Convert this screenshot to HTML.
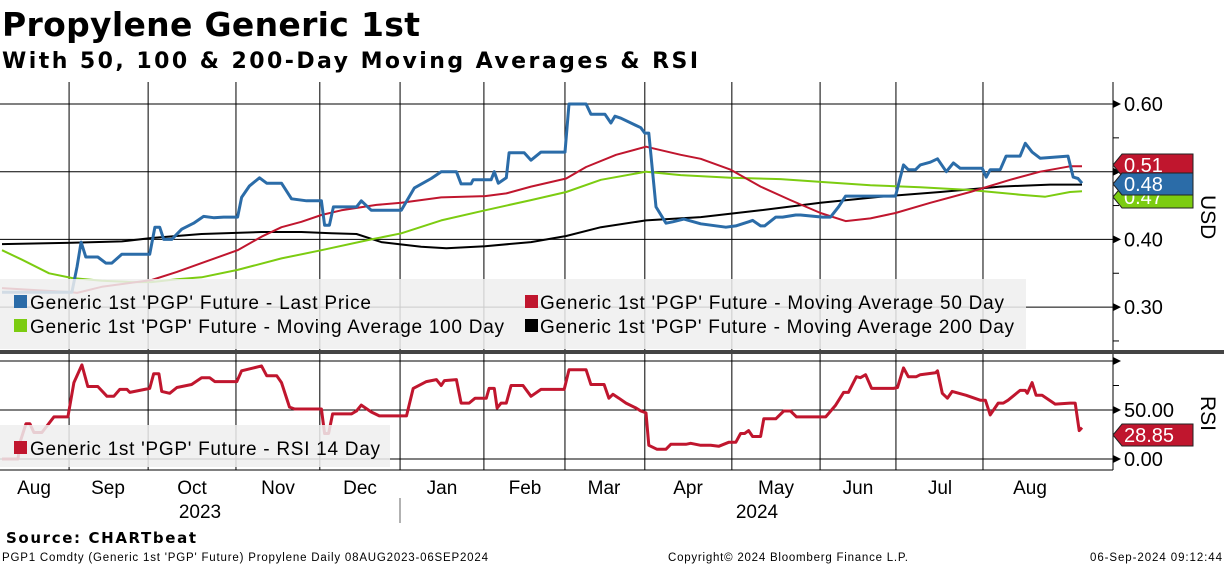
<!DOCTYPE html>
<html><head><meta charset="utf-8"><style>
body{margin:0;background:#fff;}
svg{display:block;font-family:"DejaVu Sans","Liberation Sans",sans-serif;}
</style></head><body>
<svg id="chart" width="1224" height="566" viewBox="0 0 1224 566" xmlns="http://www.w3.org/2000/svg">
<text x="2" y="36" font-size="33" font-weight="bold" fill="#000" textLength="418">Propylene Generic 1st</text>
<text x="2" y="68" font-size="22" font-weight="bold" fill="#000" textLength="696">With 50, 100 &amp; 200-Day Moving Averages &amp; RSI</text>
<g id="grid"></g>
<g id="series"></g>
<g id="legend1">
<rect x="0" y="279" width="1026" height="70" fill="#eeeeee" fill-opacity="0.85"/>
<rect x="14" y="295" width="13" height="13" fill="#2b6ca8"/><text x="30" y="309" font-family="Liberation Sans" font-size="19" textLength="341">Generic 1st 'PGP' Future - Last Price</text>
<rect x="525" y="295" width="13" height="13" fill="#c0162e"/><text x="540" y="309" font-family="Liberation Sans" font-size="19" textLength="464">Generic 1st 'PGP' Future - Moving Average 50 Day</text>
<rect x="14" y="319" width="13" height="13" fill="#7ccc11"/><text x="30" y="333" font-family="Liberation Sans" font-size="19" textLength="474">Generic 1st 'PGP' Future - Moving Average 100 Day</text>
<rect x="525" y="319" width="13" height="13" fill="#000"/><text x="540" y="333" font-family="Liberation Sans" font-size="19" textLength="474">Generic 1st 'PGP' Future - Moving Average 200 Day</text>
</g>
<g id="legend2">
<rect x="0" y="425" width="390" height="42" fill="#eeeeee" fill-opacity="0.85"/>
<rect x="14" y="441" width="13" height="13" fill="#c0162e"/><text x="30" y="455" font-family="Liberation Sans" font-size="19" textLength="350">Generic 1st 'PGP' Future - RSI 14 Day</text>
</g>
<rect x="0" y="350" width="1224" height="4" fill="#444"/>
<g id="axes"></g>
<text x="6" y="543" font-size="15" font-weight="bold" textLength="190">Source: CHARTbeat</text>
<text x="2" y="561" font-family="Liberation Sans" font-size="11.5" textLength="486">PGP1 Comdty (Generic 1st 'PGP' Future) Propylene  Daily 08AUG2023-06SEP2024</text>
<text x="668" y="561" font-family="Liberation Sans" font-size="11.5" textLength="240">Copyright© 2024 Bloomberg Finance L.P.</text>
<text x="1222" y="561" text-anchor="end" font-family="Liberation Sans" font-size="11.5" textLength="132">06-Sep-2024 09:12:44</text>
</svg>
<script>
// x unit: chart day units (approx business-day index), domain 0..271
const priceDays=[0,17.5,18.8,19.8,21,24,26,27.5,30,37,38.3,39.5,40.5,42.5,45,48,50.5,53,55.5,59,60,62,64.5,66.3,70,72.5,76.3,80,80.8,82,83,88.8,90,92.5,100,103.3,107.5,110,113.8,115,117.5,118,122.5,123.3,124.3,126.3,127,130.8,132.5,135,141,142,146.3,147.5,151,152.5,153.5,155,160,161,162,163.8,166.3,168,170.8,175,181.3,183.8,187,188,190,191,193.8,195.5,198.8,200,205.5,207.5,209.5,211.3,212.5,223.8,225.8,227,228.8,230,232.5,234.3,236.5,238.3,240,245.5,246.5,247.5,250,251.5,255,256.3,258,260,267,268.3,269.5,270.5];
const priceVals=[0.322,0.322,0.360,0.396,0.374,0.374,0.365,0.365,0.378,0.378,0.418,0.418,0.400,0.400,0.415,0.424,0.434,0.432,0.433,0.433,0.462,0.479,0.491,0.483,0.483,0.460,0.457,0.457,0.421,0.421,0.448,0.448,0.457,0.443,0.443,0.476,0.490,0.500,0.500,0.482,0.482,0.488,0.488,0.500,0.483,0.491,0.528,0.528,0.517,0.529,0.529,0.600,0.600,0.585,0.585,0.572,0.582,0.579,0.565,0.557,0.557,0.448,0.424,0.426,0.430,0.423,0.418,0.420,0.426,0.428,0.420,0.420,0.433,0.433,0.436,0.436,0.433,0.433,0.448,0.464,0.464,0.464,0.510,0.503,0.503,0.510,0.514,0.519,0.500,0.513,0.505,0.505,0.492,0.503,0.503,0.523,0.523,0.542,0.529,0.520,0.523,0.492,0.490,0.483];
const ma50Days=[0,17.5,18.8,25,37.5,43.8,50,59,65,70,75,80,85,93.8,100,110,121,126.3,132.5,141.3,146.3,153.8,161.3,170,175,182.5,190,197.5,205,211.3,217.5,223.8,232.5,242.5,252.5,260,267.5,270.5];
const ma50Vals=[0.328,0.322,0.321,0.330,0.340,0.352,0.365,0.384,0.404,0.418,0.426,0.436,0.443,0.451,0.454,0.462,0.464,0.468,0.478,0.490,0.507,0.525,0.537,0.525,0.519,0.503,0.478,0.458,0.439,0.427,0.431,0.439,0.454,0.470,0.488,0.500,0.508,0.508];
const ma100Days=[0,5,11.8,17.5,25,32.5,37.5,43.8,50,59,70,80,92.5,100,110,121,132.5,141.3,150,161.3,170,182.5,195,205,217.5,230,242.5,255,261.3,267.5,270.5];
const ma100Vals=[0.384,0.370,0.350,0.343,0.339,0.337,0.337,0.341,0.344,0.355,0.372,0.384,0.400,0.409,0.428,0.443,0.458,0.470,0.488,0.500,0.495,0.491,0.489,0.485,0.480,0.477,0.473,0.466,0.463,0.470,0.471];
const ma200Days=[0,17.5,30,37.5,50,65,75,82.5,88.8,95,105,111.3,121,132.5,141.3,150,161.3,175,190,205,220,235,250,262.5,270.5];
const ma200Vals=[0.393,0.395,0.397,0.402,0.408,0.411,0.411,0.409,0.408,0.396,0.389,0.387,0.390,0.396,0.405,0.418,0.428,0.433,0.443,0.454,0.463,0.470,0.478,0.481,0.481];
const rsiDays=[0,4,4.5,6,7,8,10,13,16.5,18,20,21.5,24,26.3,28,29.5,31.3,32,37,38,39.3,40,42,43.8,47.5,50,52,53.3,58.8,60,63,65,66.3,68.8,70,72,73.3,76.3,77.5,80,80.8,81.8,82.8,87.5,88.8,90,92.5,94.5,101.3,103,106.3,108.8,110,110.8,113.8,115,117,118.5,121.3,122,123.3,124,125,126.3,127.5,130.5,132.5,135,140.8,142,146.3,147.5,150.8,152,153,154.5,156.3,158.8,160,161.3,162,164,166.3,167.5,171.3,172.5,175,177.5,179.5,182,183.8,185,186,187,188,190,190.8,193.8,195.8,197.5,199,206.3,208.8,210.8,212,214,215,216.3,217.8,223.3,224.3,225.8,227,229,230,233.8,234.3,235.5,236.8,238,241.5,245,246.3,247.5,249.5,250.8,252,255,256.3,256.8,258,259,260.5,263.8,267.5,268.8,269.8,270.5];
const rsiVals=[0,0,17,36,36,27,27,43,43,78,96,74,74,64,64,71,71,68,72,87,87,69,67,73,76,83,83,79,79,90,93,95,85,85,78,53,51,51,51,51,26,26,46,46,49,55,48,44,44,72,79,81,75,80,81,57,57,62,62,72,72,52,57,57,75,75,64,71,71,91,91,76,76,62,66,62,57,52,49,47,14,10,10,15,15,16,14,14,13,17,17,26,26,29,23,23,41,41,49,49,43,43,55,68,68,84,83,86,72,72,73,93,84,84,86,88,90,67,62,69,65,60,60,45,57,57,60,70,70,67,78,65,65,56,57,57,29,32,28.85];
const monthDays=[16.8,36.6,58.6,79.6,99.7,120.7,141.0,161.0,182.8,204.9,223.9,245.7,267.5];
const monthLabels=['Aug','Sep','Oct','Nov','Dec','Jan','Feb','Mar','Apr','May','Jun','Jul','Aug'];
const priceTicks=[0.6,0.5,0.4,0.3];
const priceTickLabels=['0.60','','0.40','0.30'];
const rsiTicks=[100,50,0];
const rsiTickLabels=['','50.00','0.00'];

const NS='http://www.w3.org/2000/svg';
const svg=document.getElementById('chart');
const grid=document.getElementById('grid');
const ser=document.getElementById('series');
const axes=document.getElementById('axes');
const X0=2,X1=1082,D1=270.5;
function xs(d){return X0+(d/D1)*(X1-X0);}
function yp(v){return 104+(0.6-v)*677;}
function yr(v){return 459-v*0.98;}
function mk(tag,attrs,parent){const e=document.createElementNS(NS,tag);for(const k in attrs)e.setAttribute(k,attrs[k]);parent.appendChild(e);return e;}

const labelX=[34,108,192,278,360,442,525,604,688,776,858,940,1030];
monthDays.forEach((d,i)=>{
  const x=xs(d);
  if(i<12){
    const l=mk('line',{x1:x,y1:82,x2:x,y2:470,stroke:'#000','stroke-width':1},grid);
    
    
  }
  const t=mk('text',{x:labelX[i],y:494,'text-anchor':'middle','font-size':19,'font-family':'Liberation Sans'},axes);
  t.textContent=monthLabels[i];
  
  
});
const yrs=[['2023',200],['2024',757]];
yrs.forEach(([s,x])=>{const t=mk('text',{x:x,y:518,'text-anchor':'middle','font-size':19,'font-family':'Liberation Sans'},axes);t.textContent=s;

});
const ysep=mk('line',{x1:400,y1:498,x2:400,y2:523,stroke:'#666'},axes);



priceTicks.forEach((v,i)=>{
  const y=yp(v);
  const l=mk('line',{x1:0,y1:y,x2:1113,y2:y,stroke:'#000','stroke-width':1},grid);
  
  
  mk('path',{d:`M1113 ${y-4}L1121 ${y}L1113 ${y+4}Z`,fill:'#000'},axes);
  if(priceTickLabels[i]){const t=mk('text',{x:1124,y:y+7,'font-size':20,'font-family':'Liberation Sans'},axes);t.textContent=priceTickLabels[i];
  
  }
});
[0.55,0.45,0.35,0.25].forEach(v=>mk('line',{x1:1113,y1:yp(v),x2:1119,y2:yp(v),stroke:'#000'},axes));
rsiTicks.forEach((v,i)=>{
  const y=yr(v);
  const l=mk('line',{x1:0,y1:y,x2:1113,y2:y,stroke:'#000','stroke-width':1},grid);
  
  
  mk('path',{d:`M1113 ${y-4}L1121 ${y}L1113 ${y+4}Z`,fill:'#000'},axes);
  if(rsiTickLabels[i]){const t=mk('text',{x:1124,y:y+7,'font-size':20,'font-family':'Liberation Sans'},axes);t.textContent=rsiTickLabels[i];
  
  }
});
mk('line',{x1:1113,y1:yr(75),x2:1119,y2:yr(75),stroke:'#000'},axes);
mk('line',{x1:1113,y1:yr(25),x2:1119,y2:yr(25),stroke:'#000'},axes);
mk('line',{x1:0,y1:470,x2:1113,y2:470,stroke:'#000'},grid);
mk('line',{x1:1113,y1:82,x2:1113,y2:350,stroke:'#000'},axes);
mk('line',{x1:1113,y1:354,x2:1113,y2:470,stroke:'#000'},axes);

function line(days,vals,fy,color,w,name){
  const d=days.map((dd,i)=>(i?'L':'M')+xs(dd).toFixed(1)+' '+fy(vals[i]).toFixed(1)).join('');
  const p=mk('path',{d:d,fill:'none',stroke:color,'stroke-width':w,'stroke-linejoin':'round'},ser);
  
  
}
line(ma200Days,ma200Vals,yp,'#000',2,'ma200-line');
line(ma100Days,ma100Vals,yp,'#7ccc11',2,'ma100-line');
line(ma50Days,ma50Vals,yp,'#c0162e',2,'ma50-line');
line(priceDays,priceVals,yp,'#2b6ca8',3,'last-price-line');
line(rsiDays,rsiVals,yr,'#c0162e',3,'rsi-line');

function tag(y,color,label,name){
  const g=mk('g',{},axes);
  
  
  mk('path',{d:`M1113 ${y}L1122 ${y-11}L1193 ${y-11}L1193 ${y+11}L1122 ${y+11}Z`,fill:color,stroke:'#222','stroke-width':1},g);
  const t=mk('text',{x:1124,y:y+7,'font-size':20,fill:'#fff','font-family':'Liberation Sans'},g);t.textContent=label;
}
tag(197,'#7ccc11','0.47','ma100-value-tag');
tag(165,'#c0162e','0.51','ma50-value-tag');
tag(184,'#2b6ca8','0.48','last-price-value-tag');
tag(435,'#c0162e','28.85','rsi-value-tag');

const u=mk('text',{x:0,y:0,'font-size':21,'font-family':'Liberation Sans',transform:'translate(1201,195) rotate(90)'},axes);u.textContent='USD';


const r=mk('text',{x:0,y:0,'font-size':21,'font-family':'Liberation Sans',transform:'translate(1201,396) rotate(90)'},axes);r.textContent='RSI';


svg.appendChild(document.getElementById('legend1'));
svg.appendChild(document.getElementById('legend2'));
</script>
</body></html>
